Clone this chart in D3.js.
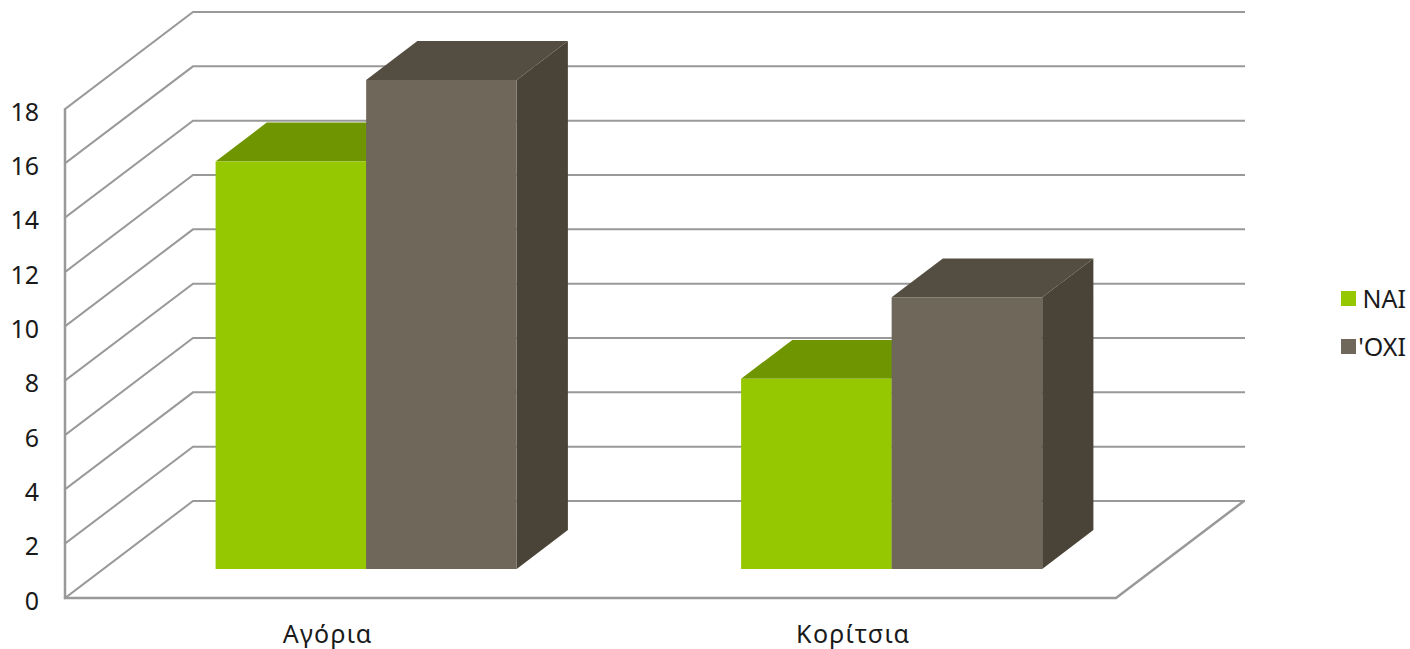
<!DOCTYPE html>
<html>
<head>
<meta charset="utf-8">
<script src="https://cdn.jsdelivr.net/npm/d3@7"></script>
<style>
  html, body { margin: 0; padding: 0; background: #fff; overflow: hidden; }
  text { font-family: "Noto Sans", sans-serif; fill: #1a1a1a; }
</style>
</head>
<body>
<script>
const categories = ["Αγόρια", "Κορίτσια"];
const seriesNames = ["ΝΑΙ", "'ΟΧΙ"];
const nai = [15, 7];
const oxi = [18, 10];
const yTicks = [0, 2, 4, 6, 8, 10, 12, 14, 16, 18];

const frontColors = ["#95c800", "#6f675a"];
const topColors = ["#6f9600", "#544d41"];
const sideColors = ["#638500", "#4a4338"];
const gridColor = "#999999";

const width = 1410, height = 649;

const svg = d3.select("body").append("svg")
  .attr("width", width)
  .attr("height", height);

// front face of the box, the back wall is this shifted by depth
const x0 = d3.scaleBand().domain(categories).range([65, 1116])
  .paddingInner(0.427).paddingOuter(0.2135);
const x1 = d3.scaleBand().domain(seriesNames).range([0, x0.bandwidth()]);
const y = d3.scaleLinear().domain([0, 18]).range([598, 109]);
const depthX = d3.scaleLinear().domain([0, 1]).range([0, 128]);
const depthY = d3.scaleLinear().domain([0, 1]).range([0, -97]);

const barFront = 0.3, barBack = 0.7;
const line = d3.line();

// gridlines: diagonal on the side wall, then along the back
svg.append("g").selectAll("path")
  .data(yTicks)
  .enter().append("path")
  .attr("d", t => line([
    [65, y(t)],
    [65 + depthX(1), y(t) + depthY(1)],
    [1116 + depthX(1), y(t) + depthY(1)]
  ]))
  .attr("fill", "none")
  .attr("stroke", gridColor)
  .attr("stroke-linecap", "square")
  .attr("stroke-width", 2);

// floor edges and left axis
svg.append("path")
  .attr("d", line([
    [65, y(18)],
    [65, y(0)],
    [1116, y(0)],
    [1116 + depthX(1), y(0) + depthY(1)]
  ]))
  .attr("fill", "none")
  .attr("stroke", gridColor)
  .attr("stroke-width", 2.5);

const values = [nai, oxi];

function drawBar(g, cat, s, v) {
  const left = x0(cat) + x1(seriesNames[s]);
  const right = left + x1.bandwidth();
  const pt = (px, val, d) => [px + depthX(d), y(val) + depthY(d)];

  // side
  g.append("path")
    .attr("d", line([pt(right, 0, barFront), pt(right, 0, barBack), pt(right, v, barBack), pt(right, v, barFront)]) + "Z")
    .attr("fill", sideColors[s]);
  // top
  g.append("path")
    .attr("d", line([pt(left, v, barFront), pt(left, v, barBack), pt(right, v, barBack), pt(right, v, barFront)]) + "Z")
    .attr("fill", topColors[s]);
  // front
  g.append("path")
    .attr("d", line([pt(left, 0, barFront), pt(left, v, barFront), pt(right, v, barFront), pt(right, 0, barFront)]) + "Z")
    .attr("fill", frontColors[s]);
}

const bars = svg.append("g");
categories.forEach((cat, c) => {
  seriesNames.forEach((name, s) => {
    drawBar(bars, cat, s, values[s][c]);
  });
});

// y labels
svg.append("g").selectAll("text")
  .data(yTicks)
  .enter().append("text")
  .attr("x", 39)
  .attr("y", t => y(t) + 3)
  .attr("dy", "0.35em")
  .attr("text-anchor", "end")
  .attr("font-size", 25)
  .text(t => t);

// category labels
svg.append("g").selectAll("text")
  .data(categories)
  .enter().append("text")
  .attr("x", d => x0(d) + x0.bandwidth() / 2)
  .attr("y", 643)
  .attr("text-anchor", "middle")
  .attr("font-size", 25)
  .attr("letter-spacing", 1.3)
  .text(d => d);

// legend
const legend = svg.append("g").selectAll("g")
  .data(seriesNames)
  .enter().append("g")
  .attr("transform", (d, i) => `translate(1341,${291 + i * 48})`);

legend.append("rect")
  .attr("width", 15)
  .attr("height", 15)
  .attr("fill", (d, i) => frontColors[i]);

legend.append("text")
  .attr("x", 65)
  .attr("y", 8)
  .attr("dy", "0.35em")
  .attr("text-anchor", "end")
  .attr("font-size", 25)
  .text(d => d);
</script>
</body>
</html>
